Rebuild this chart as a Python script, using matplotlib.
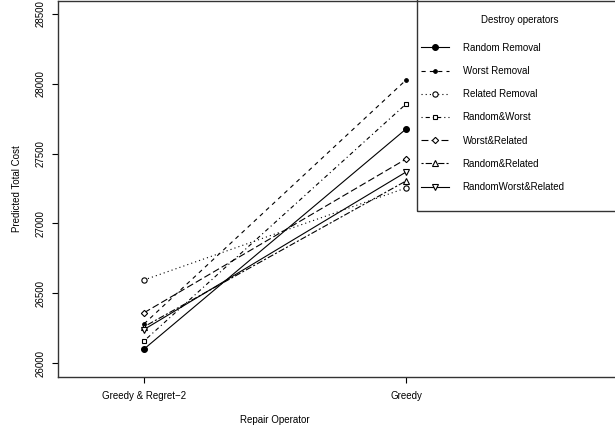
import matplotlib
matplotlib.use("Agg")
import matplotlib.pyplot as plt
from matplotlib.patches import Rectangle

plt.rcParams['font.family'] = ['Liberation Sans', 'DejaVu Sans']
plt.rcParams['lines.scale_dashes'] = False

# Data
repair_ops = ['Greedy & Regret\u22122', 'Greedy']
destroy_ops = ['Random Removal', 'Worst Removal', 'Related Removal', 'Random&Worst',
               'Worst&Related', 'Random&Related', 'RandomWorst&Related']
cost_regret = [26100, 26280, 26595, 26158, 26360, 26260, 26240]
cost_greedy = [27676, 28027, 27254, 27855, 27461, 27304, 27368]
y_ticks = [26000, 26500, 27000, 27500, 28000, 28500]

# R style line types and symbols
dash_styles = [None, (0, (3, 3)), (0, (0.8, 2.2)), (0, (0.8, 2.2, 3, 2.2)),
               (0, (5, 2.2)), (0, (1.5, 1.5, 4.5, 1.5)), None]
markers = ['o', 'o', 'o', 's', 'D', '^', 'v']
msizes = [4.2, 2.6, 3.8, 3.4, 3.2, 3.8, 3.8]
filled = [True, True, False, False, False, False, False]

W, H = 615, 432
fs = 7
fig = plt.figure(figsize=(W / 100, H / 100), dpi=100)
ax = fig.add_axes([58 / W, (H - 377) / H, (625 - 58) / W, (377 - 1) / H])

xpos = [1, 2]
handles = []
for i, name in enumerate(destroy_ops):
    ls = '-' if dash_styles[i] is None else dash_styles[i]
    line, = ax.plot(xpos, [cost_regret[i], cost_greedy[i]], color='black', lw=0.8,
                    linestyle=ls, marker=markers[i], markersize=msizes[i],
                    markerfacecolor='black' if filled[i] else 'white',
                    markeredgecolor='black', markeredgewidth=0.8, label=name)
    handles.append(line)

ax.set_xlim(1 - 86 / 262, 1 + (625 - 144) / 262)
ax.set_ylim(25900, 28593)
ax.set_xticks(xpos)
ax.set_xticklabels(repair_ops, fontsize=fs)
ax.set_yticks(y_ticks)
ax.set_yticklabels([str(v) for v in y_ticks], fontsize=fs, rotation=90, va='center')
ax.tick_params(direction='out', length=4, width=0.8, pad=6)
ax.tick_params(axis='y', pad=5)
for s in ax.spines.values():
    s.set_linewidth(1.0)
    s.set_color('#333333')

ax.set_xlabel('Repair Operator', fontsize=fs)
ax.xaxis.set_label_coords((275 - 58) / (625 - 58), -0.10)
ax.set_ylabel('Predicted Total Cost', fontsize=fs, labelpad=10)

# Legend box (extends past the right edge like the original)
frame = Rectangle((417 / W, (H - 211) / H), (630 - 417) / W, 220 / H,
                  transform=fig.transFigure, fill=False, edgecolor='#333333', lw=1.0)
fig.patches.append(frame)
fig.text(520 / W, (H - 20) / H, 'Destroy operators', fontsize=fs, ha='center', va='center')
leg = ax.legend(handles=handles, loc='upper left', bbox_to_anchor=(412 / W, (H - 34) / H),
                bbox_transform=fig.transFigure, frameon=False, fontsize=fs,
                handlelength=2.9, handletextpad=1.4, labelspacing=1.36,
                borderpad=0.4)

fig.savefig('out.png', dpi=100)
